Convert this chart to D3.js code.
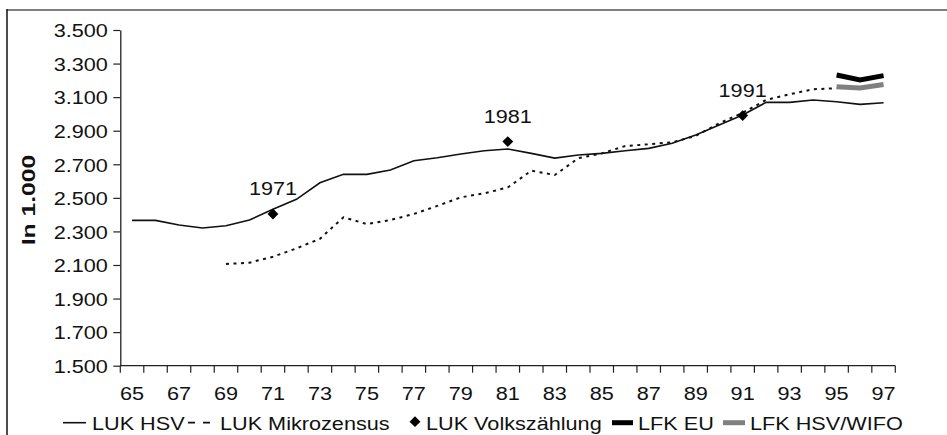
<!DOCTYPE html>
<html>
<head>
<meta charset="utf-8">
<script src="https://cdn.jsdelivr.net/npm/d3@7"></script>
<style>
  html, body { margin: 0; padding: 0; background: #fff; }
  svg { display: block; }
  text { font-family: "Liberation Sans", Arial, sans-serif; fill: #111; }
</style>
</head>
<body>
<svg id="chart" width="947" height="435"></svg>
<script>
// ---- data ----
const years = ["65","66","67","68","69","70","71","72","73","74","75","76","77","78","79","80","81","82","83","84","85","86","87","88","89","90","91","92","93","94","95","96","97"];
const yTicks = [1500, 1700, 1900, 2100, 2300, 2500, 2700, 2900, 3100, 3300, 3500];
const lukHSV = [2366, 2366, 2338, 2320, 2334, 2368, 2432, 2491, 2590, 2640, 2640, 2666, 2721, 2739, 2761, 2781, 2791, 2765, 2737, 2755, 2765, 2781, 2795, 2825, 2875, 2934, 2994, 3069, 3069, 3083, 3073, 3057, 3067];
const mikroYears = ["69","70","71","72","73","74","75","76","77","78","79","80","81","82","83","84","85","86","87","88","89","90","91","92","93","94","95"];
const lukMikro = [2106, 2114, 2149, 2199, 2256, 2384, 2344, 2368, 2404, 2452, 2503, 2527, 2562, 2662, 2636, 2736, 2765, 2809, 2819, 2831, 2869, 2944, 3007, 3083, 3117, 3147, 3153];
const vzYears = ["71", "81", "91"];
const vzValues = [2404, 2835, 2990];
const vzLabels = ["1971", "1981", "1991"];
const lfkYears = ["95", "96", "97"];
const lfkEU = [3232, 3202, 3228];
const lfkHSV = [3162, 3155, 3175];
const legendLabels = ["LUK HSV", "LUK Mikrozensus", "LUK Volkszählung", "LFK EU", "LFK HSV/WIFO"];
const yTitle = "In 1.000";

// ---- layout ----
const svg = d3.select("#chart");
const pLeft = 120.3, pRight = 895.3, pTop = 30, pBottom = 365.7;
const SX = 1.14; // horizontal text stretch
const FS = 19;

// frame
svg.append("line").attr("x1", 7).attr("x2", 947).attr("y1", 10).attr("y2", 10)
  .attr("stroke", "#808080").attr("stroke-width", 2);
svg.append("line").attr("x1", 7).attr("x2", 7).attr("y1", 9).attr("y2", 435)
  .attr("stroke", "#111").attr("stroke-width", 1.5);

const x = d3.scaleBand().domain(years).range([pLeft, pRight]).padding(0);
const y = d3.scaleLinear().domain([1500, 3500]).range([pBottom, pTop]);
const cx = d => x(d) + x.bandwidth() / 2;

// y axis
const gy = svg.append("g").attr("transform", `translate(${pLeft},0)`)
  .call(d3.axisLeft(y).tickValues(yTicks).tickSize(7).tickSizeOuter(0)
    .tickFormat(d => d3.format(".3f")(d / 1000)));
gy.select(".domain").attr("stroke", "#222").attr("stroke-width", 1.3);
gy.selectAll(".tick line").attr("stroke", "#222").attr("stroke-width", 1.2);
gy.selectAll(".tick text")
  .attr("x", -12.5 / SX).attr("dy", "0.36em")
  .attr("transform", `scale(${SX},1)`)
  .style("font-size", FS + "px").style("fill", "#111")
  .style("font-family", "'Liberation Sans', Arial, sans-serif");

// x axis
const tickBounds = years.map(d => x(d)).concat([pRight]);
const gx = svg.append("g");
gx.append("line").attr("x1", pLeft).attr("x2", pRight).attr("y1", pBottom).attr("y2", pBottom)
  .attr("stroke", "#222").attr("stroke-width", 1.3);
gx.selectAll("line.tk").data(tickBounds).join("line").attr("class", "tk")
  .attr("x1", d => d).attr("x2", d => d).attr("y1", pBottom).attr("y2", pBottom + 7)
  .attr("stroke", "#222").attr("stroke-width", 1.2);
gx.selectAll("text").data(years.filter((d, i) => i % 2 === 0)).join("text")
  .attr("transform", d => `translate(${cx(d)},400) scale(${SX},1)`)
  .attr("text-anchor", "middle")
  .style("font-size", FS + "px")
  .text(d => d);

// y title
svg.append("text")
  .attr("transform", `translate(35,200) rotate(-90) scale(1.3,1)`)
  .attr("text-anchor", "middle")
  .style("font-size", "19px").style("font-weight", "bold")
  .text(yTitle);

// lines
const line = d3.line().x(d => cx(d[0])).y(d => y(d[1]));
svg.append("path").datum(years.map((d, i) => [d, lukHSV[i]]))
  .attr("d", line).attr("fill", "none").attr("stroke", "#111").attr("stroke-width", 1.6);
svg.append("path").datum(mikroYears.map((d, i) => [d, lukMikro[i]]))
  .attr("d", line).attr("fill", "none").attr("stroke", "#111").attr("stroke-width", 2)
  .attr("stroke-dasharray", "3,4.5");
svg.append("path").datum(lfkYears.map((d, i) => [d, lfkHSV[i]]))
  .attr("d", line).attr("fill", "none").attr("stroke", "#808080").attr("stroke-width", 5);
svg.append("path").datum(lfkYears.map((d, i) => [d, lfkEU[i]]))
  .attr("d", line).attr("fill", "none").attr("stroke", "#000").attr("stroke-width", 5);

// diamonds
const diamond = d3.symbol().type(d3.symbolDiamond2).size(75);
svg.selectAll("path.vz").data(vzYears).join("path").attr("class", "vz")
  .attr("d", diamond)
  .attr("transform", (d, i) => `translate(${cx(d)},${y(vzValues[i])})`)
  .attr("fill", "#000");
svg.selectAll("text.vzl").data(vzYears).join("text").attr("class", "vzl")
  .attr("transform", (d, i) => `translate(${cx(d)},${y(vzValues[i]) - 19}) scale(${SX},1)`)
  .attr("text-anchor", "middle")
  .style("font-size", FS + "px")
  .text((d, i) => vzLabels[i]);

// legend
const ly = 422.7;
const lg = svg.append("g");
lg.append("line").attr("x1", 63).attr("x2", 86).attr("y1", ly).attr("y2", ly)
  .attr("stroke", "#111").attr("stroke-width", 1.6);
lg.append("line").attr("x1", 188).attr("x2", 213).attr("y1", ly).attr("y2", ly)
  .attr("stroke", "#111").attr("stroke-width", 1.8).attr("stroke-dasharray", "7,8");
lg.append("path").attr("d", diamond).attr("transform", `translate(415,${ly - 1})`).attr("fill", "#000");
lg.append("line").attr("x1", 612).attr("x2", 633).attr("y1", ly).attr("y2", ly)
  .attr("stroke", "#000").attr("stroke-width", 5);
lg.append("line").attr("x1", 723).attr("x2", 745).attr("y1", ly).attr("y2", ly)
  .attr("stroke", "#808080").attr("stroke-width", 5);
const legendX = [92, 220, 426, 638, 750];
lg.selectAll("text").data(legendLabels).join("text")
  .attr("transform", (d, i) => `translate(${legendX[i]},429.5) scale(${SX},1)`)
  .style("font-size", FS + "px")
  .text(d => d);
</script>
</body>
</html>
